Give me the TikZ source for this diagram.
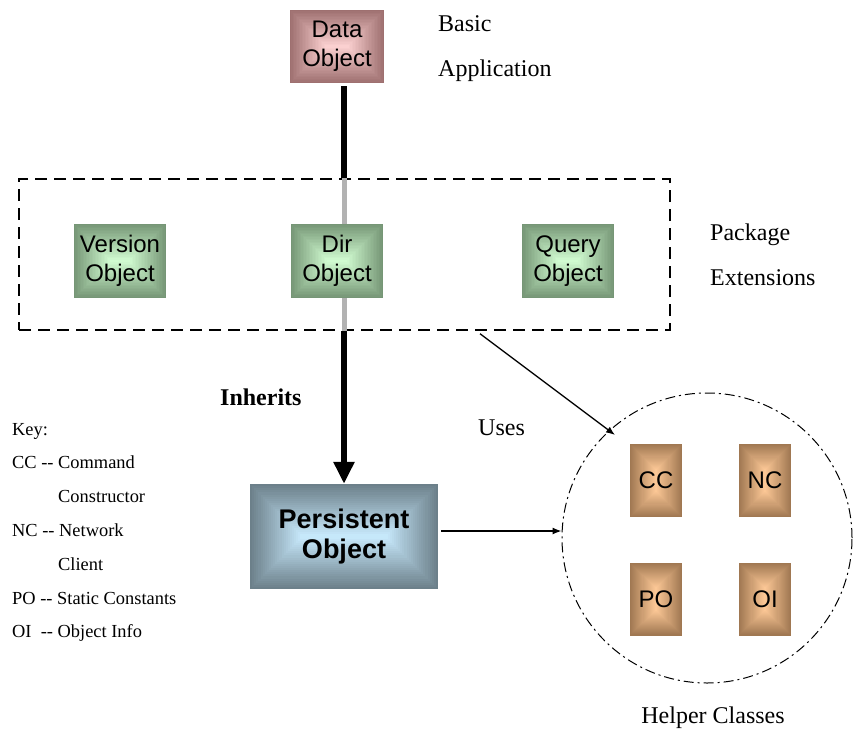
\documentclass[tikz,border=0pt]{standalone}
\usepackage{fontspec}
\setmainfont{Liberation Serif}
\newfontfamily\arial{Liberation Sans}
\usetikzlibrary{arrows.meta,calc,shapes.geometric}

\definecolor{pinkEdge}{RGB}{158,112,112}
\definecolor{pinkMid}{RGB}{255,212,212}
\definecolor{greenEdge}{RGB}{118,150,118}
\definecolor{greenMid}{RGB}{212,255,212}
\definecolor{blueEdge}{RGB}{108,128,138}
\definecolor{blueMid}{RGB}{202,236,255}
\definecolor{tanEdge}{RGB}{160,120,82}
\definecolor{tanMid}{RGB}{255,202,152}
\definecolor{lineGray}{RGB}{178,178,178}

\tikzset{
  % rectangular gradient: dark rim (#1) fading to a light core (#2), #3 = inset per step
  grad/.style n args={3}{path picture={
    \foreach \i in {0,...,25}{
      \pgfmathtruncatemacro\m{4*\i}
      \fill[#2!\m!#1]
        ([shift={(\i*#3 pt,-\i*#3 pt)}]path picture bounding box.north west)
        rectangle
        ([shift={(-\i*#3 pt,\i*#3 pt)}]path picture bounding box.south east);
    }}},
  objbox/.style={rectangle, inner sep=0pt, align=center,
    font=\arial\fontsize{24}{29}\selectfont},
  databox/.style={objbox, minimum width=94pt, minimum height=73pt,
    grad={pinkEdge}{pinkMid}{1.46}},
  extbox/.style={objbox, minimum width=92pt, minimum height=74pt,
    grad={greenEdge}{greenMid}{1.48}},
  corebox/.style={objbox, minimum width=188pt, minimum height=105pt,
    font=\arial\bfseries\fontsize{27}{30}\selectfont,
    grad={blueEdge}{blueMid}{2.1}},
  helperbox/.style={objbox, minimum width=52pt, minimum height=73pt,
    grad={tanEdge}{tanMid}{1.04}},
  caption/.style={inner sep=0pt, anchor=base west,
    font=\rmfamily\fontsize{24}{28}\selectfont},
  keytext/.style={inner sep=0pt, anchor=base west,
    font=\rmfamily\fontsize{18.4}{20}\selectfont},
  inh/.style={line width=6pt},
  inhgray/.style={line width=5pt, lineGray},
  uses/.style={line width=1.3pt, -{Latex[length=9pt,width=7pt]}},
}

\begin{document}
\begin{tikzpicture}[x=1pt, y=-1pt]
  \useasboundingbox (0,0) rectangle (853,733);

  % frame around the package extensions
  \node[draw, line width=1.5pt, dash pattern=on 12pt off 7pt,
        minimum width=651pt, minimum height=151pt, inner sep=0pt]
        (pkg) at (344.5,254.5) {};

  % helper classes group
  \node[circle, draw, line width=1pt, dash pattern=on 10pt off 4pt on 2pt off 4pt,
        minimum size=290pt, inner sep=0pt] (helpers) at (707,538) {};

  % classes
  \node[databox] (data) at (337,46.5) {Data\\Object};
  \node[extbox] (version) at (120,261) {Version\\Object};
  \node[extbox] (dir) at (337,261) {Dir\\Object};
  \node[extbox] (query) at (568,261) {Query\\Object};
  \node[corebox] (persist) at (344,536.5) {Persistent\\Object};
  \node[helperbox] (cc) at (656,480.5) {CC};
  \node[helperbox] (nc) at (765,480.5) {NC};
  \node[helperbox] (po) at (656,599) {PO};
  \node[helperbox] (oi) at (765,599) {OI};

  % inheritance chain
  \draw[inh] ($(data.south -| persist.north)+(0,3)$) -- (pkg.north -| persist.north);
  \draw[inhgray] (pkg.north -| persist.north) -- (dir.north -| persist.north);
  \draw[inhgray] (dir.south -| persist.north) -- (pkg.south -| persist.north);
  \draw[inh, -{Triangle[length=22pt,width=20pt]}] (pkg.south -| persist.north) -- (persist.north);

  % uses relations
  \coordinate (usesTip) at (615,435);
  \draw[uses] ($(pkg.south)+(135.5,3)$) -- (usesTip);
  \draw[uses] ($(persist.east)+(3,-5.5)$) -- ($(persist.east -| helpers.west)+(0,-5.5)$);

  % captions
  \node[caption] (basic) at (438,32) {Basic};
  \node[caption] (appl) at (438,77) {Application};
  \node[caption] (package) at (710,240) {Package};
  \node[caption] (ext) at (710,285) {Extensions};
  \node[caption, font=\rmfamily\bfseries\fontsize{24}{28}\selectfont] (inherits) at (220,405) {Inherits};
  \node[caption] (usestext) at (478,435) {Uses};
  \node[caption, anchor=base] (helpertext) at (713,723) {Helper Classes};

  % key
  \node[keytext] (k0) at (12,435) {Key:};
  \node[keytext] (k1) at (12,468) {CC -{}- Command};
  \node[keytext] (k2) at (58,502) {Constructor};
  \node[keytext] (k3) at (12,536) {NC -{}- Network};
  \node[keytext] (k4) at (58,570) {Client};
  \node[keytext] (k5) at (12,604) {PO -{}- Static Constants};
  \node[keytext] (k6) at (12,637) {OI~~-{}- Object Info};
\end{tikzpicture}
\end{document}
